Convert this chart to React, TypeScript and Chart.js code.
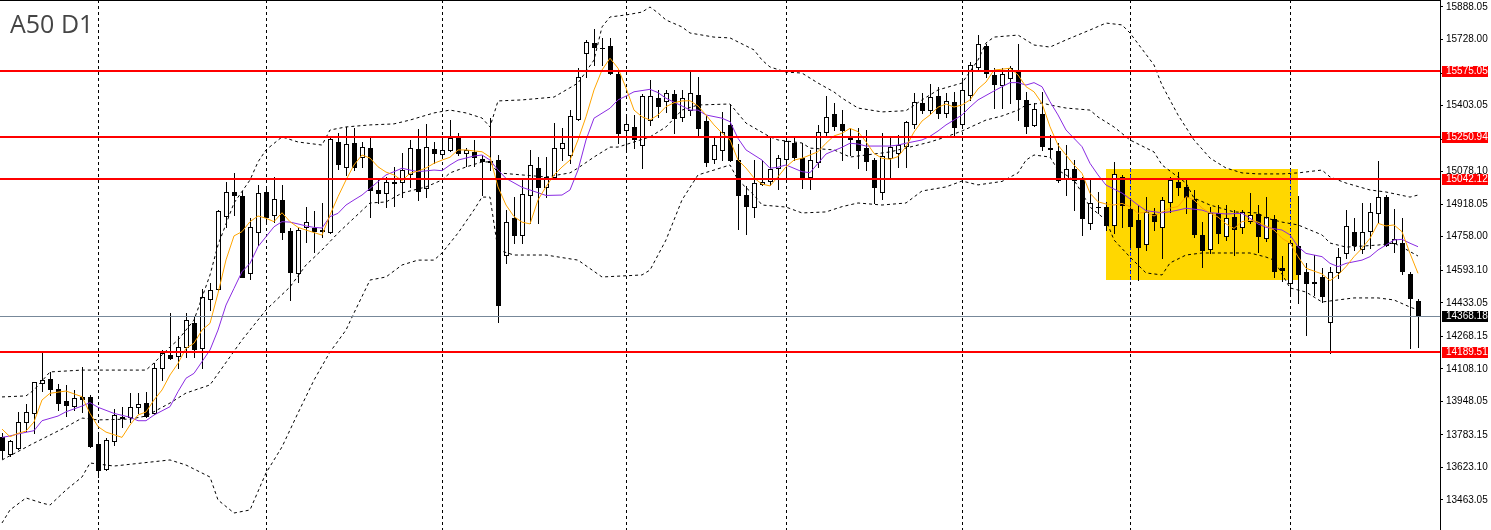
import React, { useEffect, useRef } from 'react';
import { Chart, registerables } from 'chart.js';

Chart.register(...registerables);

// ---- Data (A50 D1, daily candles, oldest -> newest) ----
const opens = [
  13774, 13689, 13717, 13848, 13893, 14037, 14058, 14008, 13951, 13927,
  13970, 13968, 13738, 13614, 13755, 13873, 13870, 13919, 13939, 13889,
  14111, 14176, 14171, 14217, 14335, 14209, 14450, 14499, 14860, 14977,
  14958, 14581, 14783, 14977, 14863, 14939, 14786, 14581, 14807, 14799,
  14789, 14783, 15222, 15102, 15218, 15152, 15193, 14988, 14972, 15025,
  15029, 15067, 15188, 14996, 15188, 15165, 15185, 15242, 15168, 15173,
  15140, 15129, 15135, 14668, 14849, 14767, 14963, 15095, 15001, 15053,
  15193, 15160, 15336, 15660, 15710, 15686, 15696, 15558, 15283, 15299,
  15209, 15332, 15439, 15426, 15459, 15346, 15381, 15455, 15329, 15139,
  15185, 15308, 15135, 14963, 14906, 15017, 15034, 15095, 15139, 15218,
  15144, 15050, 15127, 15272, 15362, 15311, 15250, 15234, 15193, 15135,
  14980, 15144, 15168, 15204, 15312, 15414, 15381, 15450, 15365, 15422,
  15312, 15455, 15594, 15696, 15554, 15504, 15537, 15578, 15431, 15308,
  15360, 15194, 15180, 15040, 15090, 15037, 14824, 14904, 14906, 14816,
  15053, 14893, 14840, 14721, 14870, 14804, 14930, 15029, 15001, 14942,
  14767, 14696, 14876, 14762, 14857, 14804, 14837, 14870, 14750, 14844,
  14603, 14529, 14712, 14586, 14533, 14558, 14340, 14586, 14679, 14783,
  14696, 14788, 14873, 14955, 14729, 14729, 14575, 14443,
];
const highs = [
  13794, 13758, 13897, 13935, 14044, 14188, 14094, 14034, 14029, 14004,
  14119, 13979, 13794, 13766, 13911, 13919, 13991, 13988, 13996, 14135,
  14201, 14381, 14270, 14384, 14368, 14499, 14529, 14890, 15029, 15070,
  14984, 14849, 15013, 15008, 15050, 15013, 14801, 14801, 14906, 14885,
  14922, 15244, 15267, 15299, 15291, 15225, 15253, 15037, 15053, 15102,
  15168, 15234, 15286, 15312, 15225, 15237, 15332, 15267, 15193, 15234,
  15160, 15341, 15160, 14890, 14955, 15037, 15185, 15152, 15152, 15316,
  15291, 15381, 15587, 15726, 15778, 15734, 15734, 15568, 15357, 15357,
  15460, 15529, 15480, 15480, 15480, 15480, 15575, 15542, 15357, 15250,
  15373, 15406, 15214, 15008, 15135, 15135, 15242, 15160, 15247, 15247,
  15219, 15185, 15308, 15450, 15417, 15381, 15291, 15291, 15283, 15145,
  15267, 15250, 15258, 15327, 15464, 15464, 15509, 15496, 15467, 15471,
  15529, 15618, 15750, 15706, 15587, 15587, 15598, 15705, 15470, 15417,
  15471, 15258, 15218, 15209, 15135, 15053, 15037, 14980, 14930, 15127,
  15062, 14947, 14914, 14955, 14898, 14955, 15053, 15078, 15037, 14988,
  14832, 14906, 14914, 14914, 14890, 14890, 14975, 14914, 14955, 14865,
  14663, 14742, 14958, 14630, 14668, 14603, 14611, 14701, 14890, 14849,
  14922, 14922, 15130, 14963, 14893, 14849, 14585, 14452,
];
const lows = [
  13670, 13681, 13714, 13802, 13793, 13999, 13979, 13906, 13876, 13906,
  13897, 13724, 13578, 13611, 13734, 13821, 13848, 13892, 13870, 13886,
  14053, 14157, 14111, 14168, 14168, 14111, 14398, 14496, 14807, 14865,
  14559, 14549, 14717, 14831, 14831, 14745, 14447, 14537, 14734, 14684,
  14755, 14776, 15090, 15062, 15086, 15102, 14854, 14922, 14906, 14909,
  14955, 15004, 14939, 14955, 15119, 15145, 15180, 15160, 15106, 15106,
  14963, 15086, 14340, 14627, 14726, 14726, 14824, 14824, 14955, 15047,
  15135, 15119, 15332, 15545, 15603, 15603, 15558, 15221, 15176, 15193,
  15095, 15308, 15348, 15372, 15267, 15329, 15357, 15250, 15106, 15119,
  15135, 15130, 14795, 14771, 14857, 15013, 15013, 14991, 15053, 15135,
  14996, 14991, 15102, 15250, 15283, 15135, 15160, 15095, 15086, 14925,
  14942, 15053, 15100, 15100, 15291, 15365, 15365, 15341, 15348, 15247,
  15308, 15431, 15582, 15545, 15390, 15390, 15414, 15332, 15270, 15303,
  15185, 15152, 15029, 14963, 14890, 14767, 14795, 14873, 14791, 14775,
  14804, 14709, 14545, 14693, 14791, 14652, 14881, 14963, 14873, 14755,
  14611, 14676, 14726, 14742, 14668, 14778, 14827, 14684, 14738, 14558,
  14542, 14471, 14431, 14275, 14471, 14438, 14185, 14553, 14652, 14693,
  14676, 14701, 14826, 14712, 14684, 14575, 14209, 14214,
];
const closes = [
  13709, 13752, 13845, 13894, 14042, 14053, 14008, 13939, 13930, 13963,
  13962, 13729, 13611, 13758, 13881, 13865, 13919, 13934, 13876, 14111,
  14188, 14163, 14217, 14348, 14204, 14463, 14496, 14885, 14977, 14963,
  14561, 14804, 14972, 14857, 14942, 14783, 14586, 14791, 14829, 14788,
  14786, 15237, 15114, 15214, 15102, 15198, 14988, 14972, 15029, 15022,
  15086, 15193, 14984, 15198, 15168, 15185, 15242, 15168, 15185, 15152,
  15129, 15126, 14422, 14832, 14767, 14967, 15109, 15004, 15050, 15193,
  15218, 15352, 15542, 15714, 15690, 15684, 15562, 15270, 15311, 15237,
  15450, 15452, 15401, 15464, 15341, 15439, 15464, 15294, 15127, 15209,
  15275, 15135, 14963, 14909, 15021, 15029, 15090, 15144, 15229, 15152,
  15053, 15135, 15272, 15346, 15304, 15283, 15239, 15185, 15132, 15004,
  15157, 15201, 15209, 15321, 15422, 15381, 15447, 15365, 15426, 15296,
  15480, 15603, 15706, 15562, 15509, 15558, 15589, 15434, 15303, 15385,
  15204, 15192, 15037, 15090, 15037, 14849, 14925, 14902, 14816, 15067,
  14914, 14811, 14706, 14881, 14837, 14939, 15037, 15001, 14955, 14771,
  14693, 14876, 14778, 14849, 14795, 14880, 14865, 14762, 14857, 14591,
  14594, 14729, 14575, 14529, 14531, 14466, 14586, 14657, 14811, 14717,
  14783, 14878, 14955, 14717, 14745, 14591, 14455, 14368,
];

// Fast moving average (orange), read per bar; null = not read
const fastMA = [
  13812, 13774, 13791, 13802, 13847, 13955, 13988, null, 13999, null,
  13971, 13889, 13824, 13797, null, 13771, 13832, 13881, 13896, 13955,
  14004, 14078, 14135, 14209, 14234, 14299, 14332, 14480, 14644, 14762,
  14783, 14832, 14860, 14849, 14832, 14876, 14832, 14804, 14791, null,
  14766, 14865, 14955, 15037, 15111, 15160, 15145, 15102, 15076, 15062,
  15034, 15070, 15081, 15096, 15119, 15135, 15149, 15185, 15185, 15180,
  15176, 15150, 15003, 14914, 14857, 14830, 14821, 14939, 15004, 15062,
  15101, 15135, 15234, 15348, 15480, 15578, 15636, 15587, 15490, 15381,
  15348, 15332, 15357, 15398, 15417, 15426, 15427, 15401, 15357, 15308,
  15268, 15234, 15135, 15096, 15047, 15017, 15008, 15053, 15102, 15135,
  15144, 15160, 15176, 15218, 15254, 15267, 15291, 15275, 15225, 15168,
  15144, 15139, 15152, 15201, 15273, 15327, 15357, 15395, 15411, 15396,
  15406, 15431, 15485, 15519, 15578, 15582, 15587, 15554, 15496, 15471,
  15414, 15299, 15209, 15160, 15111, 15070, 14972, 14930, 14919, 14914,
  14922, 14906, 14873, 14880, 14860, 14880, 14899, 14906, 14955, 14939,
  14899, 14875, 14855, 14821, 14799, 14832, 14840, 14830, 14811, 14791,
  14750, 14727, 14660, 14603, 14589, 14575, 14542, 14570, 14611, 14660,
  14701, 14750, 14824, 14811, 14816, 14783, 14676, 14578,
];

// Slow moving average (purple), read per bar; null = not read
const slowMA = [
  13771, 13778, 13788, null, 13804, 13853, null, 13876, 13897, null,
  13925, 13942, 13919, null, 13889, null, 13870, 13853, 13853, 13881,
  null, 13922, 13996, 14062, 14086, null, 14201, 14299, 14422, 14504,
  14586, 14627, 14709, 14758, 14807, 14832, 14830, 14821, 14811, 14804,
  14801, 14857, 14873, 14914, 14939, 14963, 14996, 15029, 15062, 15078,
  15095, 15086, 15078, null, 15086, 15083, 15111, 15135, null, 15155,
  15160, 15135, 15086, 15045, null, 15001, 14988, null, 14961, null,
  14963, 14988, 15086, 15234, 15341, null, 15390, 15431, 15450, 15471,
  null, 15483, 15467, 15439, null, 15401, 15381, 15381, 15357, null,
  15341, 15324, 15242, 15185, null, 15135, 15095, 15100, 15111, null,
  15078, 15073, 15119, 15165, null, 15198, 15218, 15214, 15204, null,
  15204, 15204, 15209, 15218, null, 15234, 15252, 15278, 15308, 15332,
  15357, 15396, 15431, null, 15475, 15496, 15516, 15516, 15504, 15516,
  15496, 15422, 15357, 15283, null, 15201, 15119, 15062, 15012, null,
  14973, 14944, 14914, 14886, null, 14876, 14881, 14889, 14898, null,
  14889, 14876, 14873, 14870, null, 14873, 14849, 14821, 14804, null,
  14791, 14767, 14709, 14676, null, 14660, 14627, 14611, 14627, null,
  14643, 14660, 14693, 14717, 14742, 14745, 14726, 14709,
];

// Bollinger bands read at [bar, price]
const bandUpper = [
  [0, 13970], [3, 13975], [4, 14004], [6, 14093], [10, 14102], [14, 14102], [18, 14102],
  [19, 14137], [21, 14216], [22, 14250], [24, 14348], [26, 14570], [27, 14717], [29, 14924],
  [31, 15037], [32, 15126], [33, 15185], [35, 15249], [37, 15224], [40, 15209], [41, 15283],
  [43, 15298], [46, 15308], [49, 15313], [51, 15332], [54, 15367], [56, 15381], [58, 15367],
  [60, 15342], [61, 15298], [62, 15426], [65, 15431], [69, 15445], [72, 15514], [74, 15627],
  [75, 15790], [76, 15839], [78, 15849], [80, 15863], [81, 15888], [82, 15859], [83, 15824],
  [85, 15790], [86, 15760], [89, 15740], [91, 15736], [94, 15677], [95, 15627], [96, 15593],
  [98, 15568], [100, 15563], [102, 15514], [104, 15470], [105, 15440], [107, 15391], [110, 15372],
  [113, 15378], [115, 15431], [117, 15480], [120, 15514], [122, 15627], [123, 15711],
  [124, 15740], [127, 15750], [129, 15701], [131, 15691], [133, 15726], [136, 15775], [138, 15809],
  [140, 15800], [141, 15760], [144, 15603], [145, 15504], [147, 15357], [149, 15234], [151, 15145],
  [153, 15096], [155, 15072], [157, 15067], [160, 15067], [162, 15072], [165, 15086], [166, 15052],
  [168, 15022], [171, 14988], [173, 14978], [176, 14953], [177, 14963],
];
const bandMiddle = [
  [0, 13660], [4, 13743], [8, 13822], [10, 13866], [12, 13857], [16, 13861], [18, 13876],
  [21, 13940], [23, 13989], [26, 14029], [30, 14250], [31, 14299], [33, 14398], [36, 14511],
  [38, 14619], [40, 14693], [42, 14776], [44, 14850], [46, 14924], [48, 14929], [50, 14973],
  [53, 15003], [55, 15037], [56, 15072], [58, 15101], [60, 15126], [61, 15126], [62, 15072],
  [68, 15052], [71, 15072], [72, 15096], [74, 15150], [76, 15199], [77, 15199], [79, 15224],
  [81, 15249], [83, 15298], [85, 15381], [87, 15406], [91, 15411], [93, 15317], [96, 15249],
  [97, 15234], [100, 15219], [101, 15194], [104, 15185], [106, 15150], [108, 15160], [111, 15175],
  [112, 15185], [114, 15204], [116, 15224], [118, 15249], [120, 15278], [123, 15332], [125, 15352],
  [127, 15381], [128, 15406], [130, 15416], [131, 15406], [133, 15391], [136, 15381], [137, 15347],
  [139, 15298], [141, 15234], [144, 15175], [145, 15111], [148, 15022], [149, 14948], [151, 14914],
  [154, 14880], [157, 14875], [158, 14850], [160, 14830], [162, 14816], [165, 14767], [166, 14727],
  [168, 14707], [172, 14717], [174, 14727], [175, 14707], [177, 14663],
];
const bandLower = [
  [0, 13350], [1, 13414], [3, 13473], [5, 13448], [6, 13438], [8, 13512], [10, 13576],
  [11, 13645], [14, 13630], [21, 13660], [23, 13635], [26, 13576], [27, 13463], [29, 13399],
  [31, 13414], [33, 13596], [35, 13724], [37, 13891], [39, 14053], [41, 14191], [43, 14299],
  [44, 14383], [46, 14545], [48, 14560], [50, 14619], [52, 14643], [54, 14643], [55, 14678],
  [57, 14776], [59, 14890], [60, 14953], [61, 14953], [62, 14693], [64, 14668], [68, 14668],
  [72, 14643], [75, 14560], [80, 14570], [81, 14594], [83, 14742], [85, 14939], [87, 15062],
  [89, 15086], [91, 15111], [92, 15037], [94, 14963], [95, 14914], [98, 14904], [100, 14875],
  [103, 14880], [105, 14906], [107, 14924], [110, 14914], [113, 14924], [115, 14983], [118, 15003],
  [120, 15032], [122, 15013], [125, 15030], [127, 15072], [128, 15135], [129, 15160], [131, 15150],
  [132, 15086], [134, 15037], [135, 14973], [136, 14904], [138, 14840], [139, 14742], [141, 14658],
  [143, 14580], [145, 14570], [146, 14629], [148, 14668], [150, 14678], [153, 14678], [156, 14678],
  [158, 14658], [159, 14643], [161, 14506], [163, 14486], [165, 14437], [167, 14447], [169, 14457],
  [172, 14457], [174, 14447], [176, 14412], [177, 14398],
];

// Horizontal levels, current price, y-axis ticks, month grid, highlighted zone
const levelPrices = [15575.05, 15250.94, 15042.12, 14189.51];
const currentPrice = 14368.18;
const tickValues = [
  15888.05, 15728.0, 15563.05, 15403.05, 15238.1, 15078.1, 14918.05, 14758.0,
  14593.1, 14433.05, 14268.15, 14108.1, 13948.05, 13783.15, 13623.1, 13463.05,
];
const gridBars = [12, 33, 55, 78, 98, 120, 141, 161];
const zoneBars = [138, 162];
const zonePrices = [15091, 14545];
const priceMin = 13315.41;
const priceMax = 15922.48;
const barMin = -0.25;
const barMax = 179.75;
const title = 'A50 D1';

const W = 1491;
const H = 530;
const AXIS_W = 51;
const LABEL_FONT = '10px "Liberation Sans", Arial, sans-serif';

const toPoints = (arr: (number | null)[]) =>
  arr.map((v, i) => (v == null ? null : { x: i, y: v })).filter(Boolean) as { x: number; y: number }[];
const pairPoints = (arr: number[][]) => arr.map(([x, y]) => ({ x, y }));

const chartPlugin = {
  id: 'mt4Chart',
  beforeDatasetsDraw(chart: any) {
    const { ctx, chartArea, scales } = chart;
    const xs = scales.x;
    const ys = scales.y;
    ctx.save();
    ctx.beginPath();
    ctx.rect(chartArea.left, chartArea.top, chartArea.right - chartArea.left, chartArea.bottom - chartArea.top);
    ctx.clip();

    // highlighted zone
    const rx1 = Math.round(xs.getPixelForValue(zoneBars[0]));
    const rx2 = Math.round(xs.getPixelForValue(zoneBars[1]));
    const ry1 = Math.round(ys.getPixelForValue(zonePrices[0]));
    const ry2 = Math.round(ys.getPixelForValue(zonePrices[1]));
    ctx.fillStyle = '#FFD700';
    ctx.fillRect(rx1, ry1, rx2 - rx1, ry2 - ry1);

    // vertical dotted grid
    ctx.lineWidth = 1;
    ctx.setLineDash([3, 3]);
    for (const b of gridBars) {
      const gx = Math.round(xs.getPixelForValue(b)) + 0.5;
      ctx.strokeStyle = '#000000';
      ctx.beginPath();
      ctx.moveTo(gx, chartArea.top);
      ctx.lineTo(gx, chartArea.bottom);
      ctx.stroke();
      if (gx > rx1 && gx < rx2) {
        ctx.strokeStyle = '#1030ff';
        ctx.beginPath();
        ctx.moveTo(gx, ry1);
        ctx.lineTo(gx, ry2);
        ctx.stroke();
      }
    }
    ctx.setLineDash([]);

    // candles
    for (let i = 0; i < closes.length; i++) {
      const cx = Math.round(xs.getPixelForValue(i));
      const yo = Math.round(ys.getPixelForValue(opens[i]));
      const yc = Math.round(ys.getPixelForValue(closes[i]));
      const yh = Math.round(ys.getPixelForValue(highs[i]));
      const yl = Math.round(ys.getPixelForValue(lows[i]));
      ctx.fillStyle = '#000000';
      ctx.fillRect(cx, yh, 1, yl - yh + 1);
      const top = Math.min(yo, yc);
      const bot = Math.max(yo, yc);
      if (closes[i] >= opens[i]) {
        ctx.fillStyle = '#ffffff';
        ctx.fillRect(cx - 2, top, 5, bot - top + 1);
        ctx.strokeStyle = '#000000';
        ctx.lineWidth = 1;
        ctx.strokeRect(cx - 1.5, top + 0.5, 4, Math.max(bot - top, 0));
      } else {
        ctx.fillStyle = '#000000';
        ctx.fillRect(cx - 2, top, 5, bot - top + 1);
      }
    }
    ctx.restore();
  },
  afterDatasetsDraw(chart: any) {
    const { ctx, chartArea, scales } = chart;
    const ys = scales.y;
    ctx.save();
    const py = Math.round(ys.getPixelForValue(currentPrice)) + 0.5;
    ctx.strokeStyle = '#778899';
    ctx.lineWidth = 1;
    ctx.beginPath();
    ctx.moveTo(chartArea.left, py);
    ctx.lineTo(chartArea.right, py);
    ctx.stroke();
    ctx.fillStyle = '#ff0000';
    for (const lv of levelPrices) {
      const ly = Math.round(ys.getPixelForValue(lv));
      ctx.fillRect(chartArea.left, ly - 1, chartArea.right - chartArea.left, 2);
    }
    ctx.restore();
  },
  afterDraw(chart: any) {
    const { ctx, chartArea, scales } = chart;
    const ys = scales.y;
    ctx.save();
    ctx.fillStyle = '#000000';
    ctx.fillRect(0, 0, chartArea.right + 1, 1);
    ctx.font = LABEL_FONT;
    ctx.textBaseline = 'middle';
    ctx.textAlign = 'left';
    const drawTag = (v: number, bg: string) => {
      const ly = Math.round(ys.getPixelForValue(v));
      ctx.fillStyle = bg;
      ctx.fillRect(chartArea.right + 2, ly - 5, 46, 11);
      ctx.fillStyle = '#ffffff';
      ctx.fillText(v.toFixed(2), chartArea.right + 6, ly + 0.5);
    };
    for (const lv of levelPrices) drawTag(lv, '#ff0000');
    drawTag(currentPrice, '#000000');
    ctx.restore();
  },
};

export default function App() {
  const canvasRef = useRef<HTMLCanvasElement | null>(null);

  useEffect(() => {
    if (!canvasRef.current) return;
    const line = (data: any, color: string, dash: number[] = []) => ({
      data,
      borderColor: color,
      borderWidth: 1,
      borderDash: dash,
      pointRadius: 0,
      tension: 0,
      fill: false,
      spanGaps: true,
    });
    const chart = new Chart(canvasRef.current, {
      type: 'line',
      data: {
        datasets: [
          line(toPoints(fastMA), '#FFA500'),
          line(toPoints(slowMA), '#8A2BE2'),
          line(pairPoints(bandUpper), '#000000', [3, 3]),
          line(pairPoints(bandMiddle), '#000000', [3, 3]),
          line(pairPoints(bandLower), '#000000', [3, 3]),
        ] as any,
      },
      options: {
        responsive: false,
        animation: false,
        events: [],
        layout: { padding: 0 },
        plugins: { legend: { display: false }, tooltip: { enabled: false }, title: { display: false } },
        scales: {
          x: { type: 'linear', display: false, min: barMin, max: barMax },
          y: {
            type: 'linear',
            position: 'right',
            min: priceMin,
            max: priceMax,
            afterBuildTicks: (scale: any) => {
              scale.ticks = tickValues.map((v) => ({ value: v }));
            },
            afterFit: (scale: any) => {
              scale.width = AXIS_W;
              scale.paddingTop = 0;
              scale.paddingBottom = 0;
            },
            ticks: {
              autoSkip: false,
              padding: 3,
              color: '#000000',
              font: { family: '"Liberation Sans", Arial, sans-serif', size: 10 },
              callback: (v: any) => Number(v).toFixed(2),
            },
            grid: { drawOnChartArea: false, drawTicks: true, tickLength: 3, color: '#000000', tickColor: '#000000' },
            border: { display: true, color: '#000000', width: 1 },
          },
        },
      } as any,
      plugins: [chartPlugin],
    });
    return () => chart.destroy();
  }, []);

  return (
    <div style={{ position: 'fixed', left: 0, top: 0, width: W, height: H, background: '#ffffff' }}>
      <canvas ref={canvasRef} width={W} height={H} style={{ display: 'block', width: W, height: H }} />
      <div
        style={{
          position: 'absolute',
          left: 10,
          top: 11,
          fontFamily: '"Open Sans", "Noto Sans", sans-serif',
          fontSize: 25,
          lineHeight: '25px',
          color: '#454545',
          whiteSpace: 'nowrap',
          pointerEvents: 'none',
        }}
      >
        {title}
      </div>
    </div>
  );
}
